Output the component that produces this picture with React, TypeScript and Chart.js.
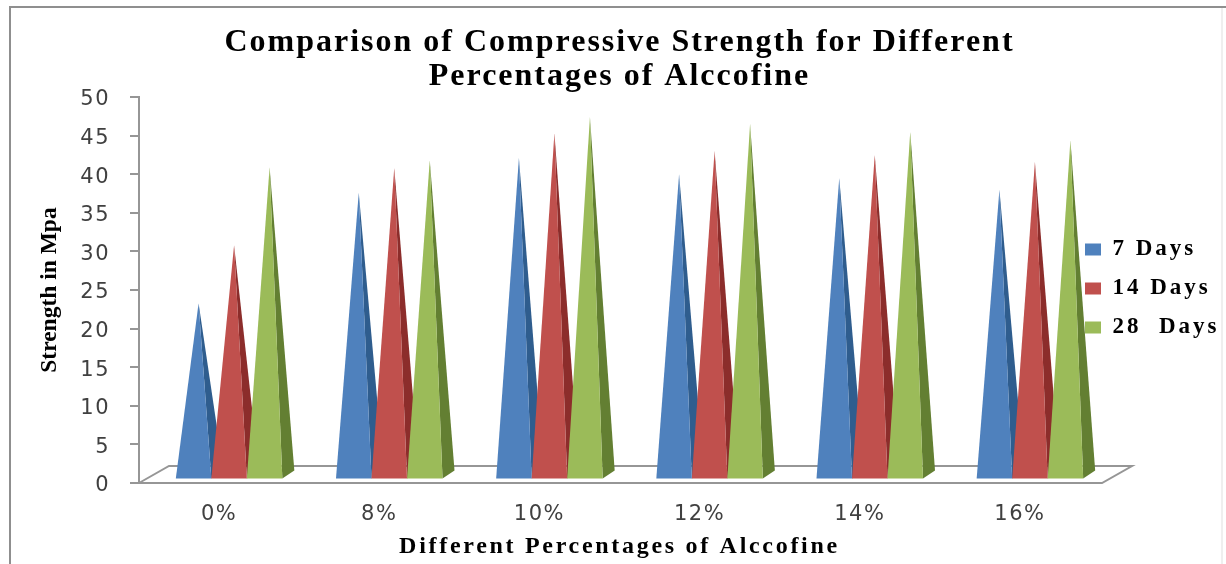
import React, { useEffect, useRef } from "react";
import { Chart, registerables } from "chart.js";

Chart.register(...registerables);

const categories = ["0%", "8%", "10%", "12%", "14%", "16%"];
const sevenDays = [23.3, 37.6, 42.1, 40, 39.5, 38];
const fourteenDays = [30.8, 40.8, 45.3, 43, 42.5, 41.6];
const twentyEightDays = [40.9, 41.8, 47.4, 46.5, 45.5, 44.4];
const seriesNames = ["7 Days", "14 Days", "28  Days"];
const frontColors = ["#4f81bd", "#c0504d", "#9bbb59"];
const sideColors = ["#2f5d8e", "#8c2d2b", "#637f32"];

const AXIS_GREY = "#969696";
const TEXT_GREY = "#404040";
const SERIF = "'Liberation Serif', serif";
const SANS = "'DejaVu Sans', sans-serif";

const TITLE_SIZE = 32;
const X_TITLE_SIZE = 24;
const Y_TITLE_SIZE = 23.5;
const LEGEND_SIZE = 23;
const TICK_SIZE = 21;

// Letter spacing (px) for each text style, keyed by font size.
const trackingBySize: Record<string, number> = {
  [TITLE_SIZE]: 2,
  [X_TITLE_SIZE]: 2.7,
  [Y_TITLE_SIZE]: 0,
  [LEGEND_SIZE]: 3,
  [TICK_SIZE]: 1.5,
};

// Frame, perspective floor and pyramids: the value axis gives each apex,
// the bar layout gives each base.
const pyramidPlugin = {
  id: "pyramids",
  beforeInit(chart: any) {
    const ctx = chart.ctx;
    const drawText = ctx.fillText.bind(ctx);
    ctx.fillText = (text: string, x: number, y: number, maxWidth?: number) => {
      const size = /([\d.]+)px/.exec(ctx.font)?.[1] ?? "";
      ctx.letterSpacing = `${trackingBySize[size] ?? 0}px`;
      if (maxWidth === undefined) drawText(text, x, y);
      else drawText(text, x, y, maxWidth);
    };
  },
  afterLayout(chart: any) {
    // The key sits partly over the plot's right edge.
    chart.legend.left = 1069;
    chart.legend.right = 1226;
    chart.legend.top = 222;
    chart.legend.bottom = 564;
  },
  beforeDraw(chart: any) {
    const { ctx, width, height } = chart;
    ctx.save();
    ctx.fillStyle = "#ffffff";
    ctx.fillRect(0, 0, width, height);
    ctx.strokeStyle = "#efefef";
    ctx.lineWidth = 2;
    ctx.beginPath();
    ctx.moveTo(1222, 7);
    ctx.lineTo(1222, height);
    ctx.stroke();
    ctx.strokeStyle = "#8f8f8f";
    ctx.beginPath();
    ctx.moveTo(10, height);
    ctx.lineTo(10, 7);
    ctx.lineTo(width, 7);
    ctx.stroke();
    ctx.restore();
  },
  beforeDatasetDraw() {
    return false;
  },
  afterDatasetsDraw(chart: any) {
    const { ctx, scales } = chart;
    const floorY = scales.y.getPixelForValue(0);
    const left = scales.x.left;
    const right = scales.x.right + 2;
    const depthX = 30;
    const depthY = 17;

    ctx.save();
    ctx.strokeStyle = AXIS_GREY;
    ctx.lineWidth = 2;
    ctx.beginPath();
    ctx.moveTo(left, floorY);
    ctx.lineTo(left + depthX, floorY - depthY);
    ctx.lineTo(right + depthX, floorY - depthY);
    ctx.lineTo(right, floorY);
    ctx.lineTo(left, floorY);
    ctx.stroke();

    chart.data.datasets.forEach((_: any, datasetIndex: number) => {
      chart.getDatasetMeta(datasetIndex).data.forEach((bar: any) => {
        const x0 = bar.x + 10 - bar.width / 2;
        const x1 = bar.x + 10 + bar.width / 2;
        const baseY = bar.base - 3.5;
        const apexX = bar.x + 15;
        ctx.fillStyle = sideColors[datasetIndex];
        ctx.beginPath();
        ctx.moveTo(x1, baseY);
        ctx.lineTo(x1 + 12, baseY - 8);
        ctx.lineTo(apexX, bar.y);
        ctx.closePath();
        ctx.fill();
        ctx.fillStyle = frontColors[datasetIndex];
        ctx.beginPath();
        ctx.moveTo(x0, baseY);
        ctx.lineTo(x1, baseY);
        ctx.lineTo(apexX, bar.y);
        ctx.closePath();
        ctx.fill();
      });
    });
    ctx.restore();
  },
};

export default function App() {
  const canvasRef = useRef<HTMLCanvasElement>(null);

  useEffect(() => {
    document.body.style.margin = "0";
    const seriesValues = [sevenDays, fourteenDays, twentyEightDays];
    const chart = new Chart(canvasRef.current as HTMLCanvasElement, {
      type: "bar",
      data: {
        labels: categories,
        datasets: seriesNames.map((label, i) => ({
          label,
          data: seriesValues[i],
          backgroundColor: frontColors[i],
          borderWidth: 0,
          categoryPercentage: 0.665,
          barPercentage: 1,
        })),
      },
      plugins: [pyramidPlugin],
      options: {
        responsive: false,
        animation: false,
        layout: { padding: 0 },
        plugins: {
          tooltip: { enabled: false },
          title: {
            display: true,
            fullSize: false,
            text: [
              "Comparison of Compressive Strength for Different",
              "Percentages of Alccofine",
            ],
            color: "#000000",
            font: { family: SERIF, size: TITLE_SIZE, weight: "bold", lineHeight: 1.06 },
            padding: { top: 26, bottom: 3.2 },
          },
          legend: {
            position: "right",
            align: "start",
            maxWidth: 126,
            labels: {
              color: "#000000",
              boxWidth: 16,
              boxHeight: 12,
              padding: 16,
              font: { family: SERIF, size: LEGEND_SIZE, weight: "bold" },
            },
          },
        },
        scales: {
          x: {
            afterFit: (scale: any) => {
              scale.height = 81;
            },
            grid: { display: false },
            border: { color: AXIS_GREY, width: 2 },
            ticks: {
              color: TEXT_GREY,
              padding: 11,
              maxRotation: 0,
              font: { family: SANS, size: TICK_SIZE },
            },
            title: {
              display: true,
              text: "Different Percentages of Alccofine",
              color: "#000000",
              font: { family: SERIF, size: X_TITLE_SIZE, weight: "bold" },
              padding: { top: 0, bottom: 2.6 },
            },
          },
          y: {
            min: 0,
            max: 50,
            afterFit: (scale: any) => {
              scale.width = 139;
            },
            grid: { drawOnChartArea: false, drawTicks: true, tickLength: 9, color: AXIS_GREY, lineWidth: 2 },
            border: { color: AXIS_GREY, width: 2 },
            ticks: {
              stepSize: 5,
              color: TEXT_GREY,
              padding: 20,
              labelOffset: 3,
              font: { family: SANS, size: TICK_SIZE },
            },
            title: {
              display: true,
              text: "Strength in Mpa",
              color: "#000000",
              font: { family: SERIF, size: Y_TITLE_SIZE, weight: "bold" },
              padding: { top: 36, bottom: 0 },
            },
          },
        },
      },
    } as any);
    return () => chart.destroy();
  }, []);

  return <canvas ref={canvasRef} width={1226} height={564} style={{ display: "block" }} />;
}
